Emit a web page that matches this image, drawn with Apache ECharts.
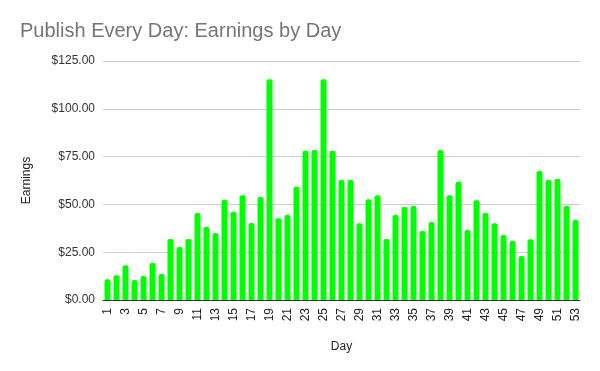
<!DOCTYPE html>
<html>
<head>
<meta charset="utf-8">
<script src="https://cdn.jsdelivr.net/npm/echarts@6/dist/echarts.min.js"></script>
<style>html,body{margin:0;padding:0;background:#fff}#c{width:600px;height:371px}</style>
</head>
<body>
<div id="c"></div>
<script>
var days = [];
for (var i = 1; i <= 53; i++) days.push(String(i));
var earnings = [10.8, 12.9, 18.2, 10.5, 12.6, 19.4, 13.6, 31.9, 27.7, 31.9,
  45.5, 38.2, 35.1, 52.4, 46.1, 54.8, 40.3, 53.9, 115.5, 42.8,
  44.5, 59.2, 78.0, 78.5, 115.5, 78.0, 62.8, 62.8, 40.1, 52.7,
  54.8, 31.9, 44.5, 48.7, 49.2, 36.1, 40.8, 78.5, 54.8, 61.8,
  36.6, 52.2, 45.5, 40.1, 34.0, 30.8, 23.0, 31.8, 67.5, 62.8,
  63.4, 49.1, 41.9];
var yTicks = [0, 25, 50, 75, 100, 125];

var FONT = '"Liberation Sans", Arial, sans-serif';
var chart = echarts.init(document.getElementById('c'), null, {renderer: 'canvas'});
chart.setOption({
  animation: false,
  backgroundColor: '#ffffff',
  textStyle: {fontFamily: FONT},
  title: {
    text: 'Publish Every Day: Earnings by Day',
    left: 15, top: 16,
    textStyle: {fontFamily: FONT, fontSize: 20, fontWeight: 'normal', color: '#757575'}
  },
  grid: {left: 103, right: 20, top: 61, bottom: 71, containLabel: false},
  xAxis: {
    type: 'category',
    data: days,
    name: 'Day',
    nameLocation: 'middle',
    nameGap: 41,
    nameTextStyle: {fontFamily: FONT, fontSize: 12, color: '#222'},
    axisLine: {show: true, lineStyle: {color: '#333', width: 1}},
    axisTick: {show: false},
    axisLabel: {interval: 1, rotate: 90, margin: 8, fontSize: 12, color: '#222', fontFamily: FONT}
  },
  yAxis: {
    type: 'value',
    min: yTicks[0],
    max: yTicks[yTicks.length - 1],
    interval: 25,
    name: 'Earnings',
    nameLocation: 'middle',
    nameGap: 70,
    nameTextStyle: {fontFamily: FONT, fontSize: 12, color: '#222'},
    axisLine: {show: false},
    axisTick: {show: false},
    splitLine: {show: true, lineStyle: {color: '#cccccc', width: 1}},
    axisLabel: {
      margin: 8, fontSize: 12, color: '#333', fontFamily: FONT,
      formatter: function (v) { return '$' + v.toFixed(2); }
    }
  },
  series: [{
    type: 'bar',
    data: earnings,
    barWidth: 6,
    itemStyle: {color: '#00ff00', borderRadius: [2, 2, 0, 0]}
  }]
});
</script>
</body>
</html>
